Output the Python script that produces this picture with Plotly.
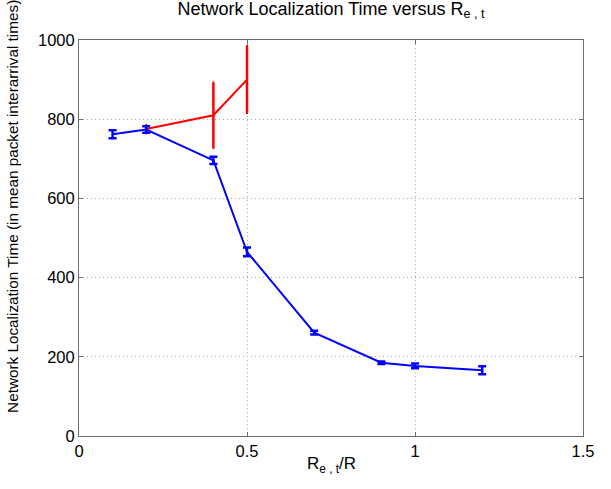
import plotly.graph_objects as go

# blue series (with small error bars)
blue_x = [0.1, 0.2, 0.4, 0.5, 0.7, 0.9, 1.0, 1.2]
blue_y = [762, 774, 696, 465, 261, 185, 177, 166]
blue_err = [10, 8, 9, 11, 5, 3, 6, 10]

# red series (with large error bars)
red_x = [0.2, 0.4, 0.5]
red_y = [775, 810, 900]
red_err = [10, 82, 84]

fig = go.Figure()

fig.add_scatter(x=red_x, y=red_y, mode="lines",
                line=dict(color="rgb(255,0,0)", width=2),
                error_y=dict(type="data", array=red_err, color="rgb(255,0,0)",
                             thickness=2.5, width=1),
                showlegend=False)

fig.add_scatter(x=blue_x, y=blue_y, mode="lines",
                line=dict(color="rgb(0,0,255)", width=2),
                error_y=dict(type="data", array=blue_err, color="rgb(0,0,255)",
                             thickness=2.5, width=4),
                showlegend=False)

axis_style = dict(showline=True, linecolor="#6e6e6e", linewidth=1, mirror="ticks",
                  ticks="inside", ticklen=4, tickcolor="#6e6e6e",
                  showgrid=True, gridcolor="#a8a8a8", griddash="1px,3px", gridwidth=1,
                  zeroline=False, automargin=False,
                  tickfont=dict(size=16.5, color="black"))

fig.update_xaxes(range=[0, 1.5], tickvals=[0, 0.5, 1, 1.5],
                 ticktext=["0", "0.5", "1", "1.5"], **axis_style)
fig.update_yaxes(range=[0, 1000], tickvals=[0, 200, 400, 600, 800, 1000],
                 **axis_style)

# axis labels placed like the MATLAB figure
fig.add_annotation(text="R<sub>e , t</sub>/R", xref="paper", yref="paper",
                   x=0.5, y=-0.073, xanchor="center", yanchor="middle",
                   showarrow=False, font=dict(size=17))
fig.add_annotation(text="Network Localization Time (in mean packet interarrival times)",
                   xref="paper", yref="paper", x=-0.131, y=0.581,
                   xanchor="center", yanchor="middle", textangle=-90,
                   showarrow=False, font=dict(size=15.3))

fig.update_layout(
    width=611, height=489,
    margin=dict(l=79, r=28, t=40, b=53),
    paper_bgcolor="white", plot_bgcolor="white",
    font=dict(family="Liberation Sans, Arial, sans-serif", color="black"),
    title=dict(text="Network Localization Time versus R<sub>e , t</sub>",
               xref="paper", x=0.5, xanchor="center",
               yref="container", y=1 - 2 / 489, yanchor="top",
               font=dict(size=18)),
)

fig.write_html("out.html", config={"displayModeBar": False},
               post_script="document.body.style.margin='0';")
